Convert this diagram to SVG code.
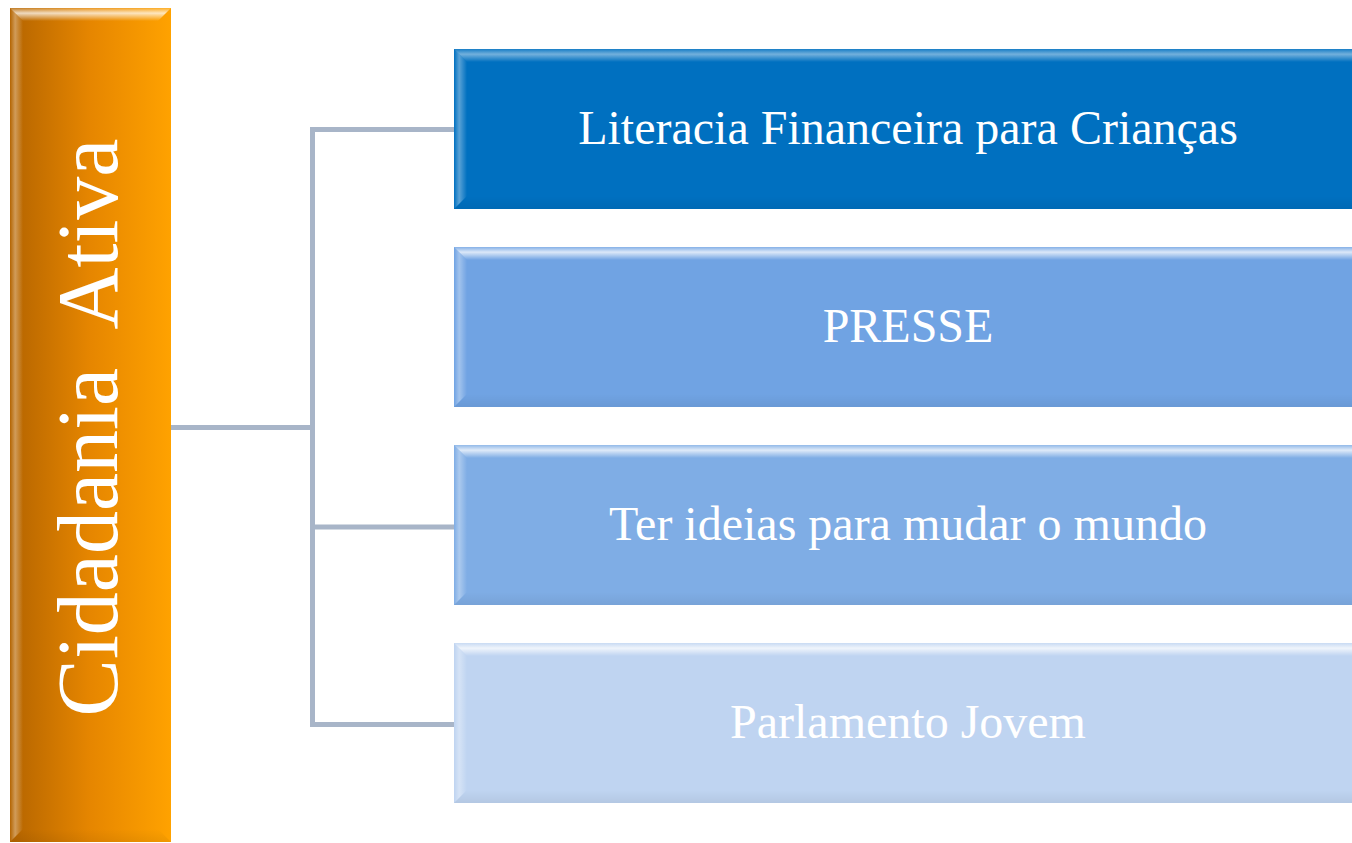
<svg xmlns="http://www.w3.org/2000/svg" width="1352" height="843" viewBox="0 0 1352 843">
<defs>
<style>
.lbl{font-family:"Liberation Serif","Times New Roman",serif;font-size:48px;fill:#ffffff;text-anchor:middle}
.big{font-family:"Liberation Serif","Times New Roman",serif;font-size:86px;fill:#ffffff;text-anchor:middle}
.con{stroke:#a8b5c8;stroke-width:5;fill:none}
</style>
<linearGradient id="og" x1="0" y1="0" x2="1" y2="0">
<stop offset="0" stop-color="#b46400"/>
<stop offset="0.5" stop-color="#e68600"/>
<stop offset="1" stop-color="#ffa200"/>
</linearGradient>
<linearGradient id="hTop" x1="0" y1="0" x2="0" y2="1">
<stop offset="0" stop-color="#ffffff" stop-opacity="0.15"/>
<stop offset="0.4" stop-color="#ffffff" stop-opacity="0.75"/>
<stop offset="1" stop-color="#ffffff" stop-opacity="0"/>
</linearGradient>
<linearGradient id="hLeft" x1="0" y1="0" x2="1" y2="0">
<stop offset="0" stop-color="#ffffff" stop-opacity="0"/>
<stop offset="0.4" stop-color="#ffffff" stop-opacity="0.35"/>
<stop offset="1" stop-color="#ffffff" stop-opacity="0"/>
</linearGradient>
<linearGradient id="hBot" x1="0" y1="0" x2="0" y2="1">
<stop offset="0" stop-color="#000000" stop-opacity="0"/>
<stop offset="1" stop-color="#000000" stop-opacity="0.06"/>
</linearGradient>
</defs>

<g id="connectors">
<polyline class="con" points="171,427.5 312.5,427.5"/>
<polyline class="con" points="454,129.5 312.5,129.5 312.5,724.5 454,724.5"/>
<polyline class="con" points="312.5,527 454,527"/>
</g>

<g id="node-cidadania">
<rect x="10" y="8" width="161" height="834" fill="url(#og)"/>
<polygon points="10,8 171,8 158,21 23,21" fill="url(#hTop)"/>
<polygon points="10,8 23,21 23,829 10,842" fill="url(#hLeft)"/>
<polygon points="10,842 23,829 158,829 171,842" fill="url(#hBot)"/>
<text class="big" transform="translate(117,427.5) rotate(-90)" xml:space="preserve">Cidadania  Ativa</text>
</g>

<g id="node-literacia">
<rect x="454" y="49" width="898" height="160" fill="#0070c0"/>
<polygon points="454,49 1352,49 1352,62 467,62" fill="url(#hTop)" opacity="0.6"/>
<polygon points="454,49 467,62 467,196 454,209" fill="url(#hLeft)"/>
<polygon points="454,209 467,196 1352,196 1352,209" fill="url(#hBot)"/>
<text class="lbl" x="908" y="144">Literacia Financeira para Crianças</text>
</g>

<g id="node-presse">
<rect x="454" y="247" width="898" height="160" fill="#70a3e3"/>
<polygon points="454,247 1352,247 1352,260 467,260" fill="url(#hTop)"/>
<polygon points="454,247 467,260 467,394 454,407" fill="url(#hLeft)"/>
<polygon points="454,407 467,394 1352,394 1352,407" fill="url(#hBot)"/>
<text class="lbl" x="908" y="342">PRESSE</text>
</g>

<g id="node-ideias">
<rect x="454" y="445" width="898" height="160" fill="#7fade5"/>
<polygon points="454,445 1352,445 1352,458 467,458" fill="url(#hTop)"/>
<polygon points="454,445 467,458 467,592 454,605" fill="url(#hLeft)"/>
<polygon points="454,605 467,592 1352,592 1352,605" fill="url(#hBot)"/>
<text class="lbl" x="908" y="540">Ter ideias para mudar o mundo</text>
</g>

<g id="node-parlamento">
<rect x="454" y="643" width="898" height="160" fill="#bfd4f1"/>
<polygon points="454,643 1352,643 1352,656 467,656" fill="url(#hTop)"/>
<polygon points="454,643 467,656 467,790 454,803" fill="url(#hLeft)"/>
<polygon points="454,803 467,790 1352,790 1352,803" fill="url(#hBot)"/>
<text class="lbl" x="908" y="738">Parlamento Jovem</text>
</g>
</svg>
